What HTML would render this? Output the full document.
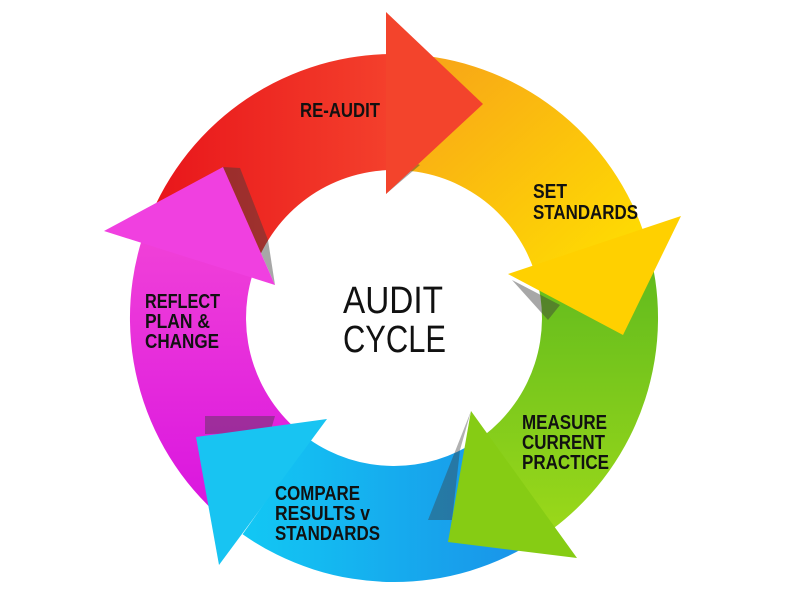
<!DOCTYPE html>
<html><head><meta charset="utf-8"><style>
html,body{margin:0;padding:0;background:#fff;width:800px;height:599px;overflow:hidden}
svg{display:block}
text{font-family:"Liberation Sans",sans-serif;fill:#111}
.l{font-size:20px;font-weight:bold}
.c{font-size:38px}
</style></head><body>
<svg id="s" width="800" height="599" viewBox="0 0 800 599">
<defs>
<linearGradient id="gr" x1="0" y1="0" x2="1" y2="0"><stop offset="0" stop-color="#e8141a"/><stop offset="1" stop-color="#f4402c"/></linearGradient>
<linearGradient id="gy" x1="0" y1="0" x2="1" y2="1"><stop offset="0" stop-color="#f7a01a"/><stop offset="1" stop-color="#ffe000"/></linearGradient>
<linearGradient id="gg" x1="0" y1="0" x2="0" y2="1"><stop offset="0" stop-color="#5cb81e"/><stop offset="1" stop-color="#9ad81a"/></linearGradient>
<linearGradient id="gb" x1="1" y1="0" x2="0" y2="0"><stop offset="0" stop-color="#1a90e8"/><stop offset="1" stop-color="#12c8f4"/></linearGradient>
<linearGradient id="gm" x1="0" y1="1" x2="0" y2="0"><stop offset="0" stop-color="#d812e0"/><stop offset="1" stop-color="#f040d8"/></linearGradient>
</defs>
<g id="bands"></g>
<g id="heads"></g>
<text class="l" x="300" y="117" textLength="80" lengthAdjust="spacingAndGlyphs">RE-AUDIT</text>
<text class="l" x="533" y="198" textLength="34" lengthAdjust="spacingAndGlyphs">SET</text>
<text class="l" x="533" y="219" textLength="105" lengthAdjust="spacingAndGlyphs">STANDARDS</text>
<text class="l" x="145" y="308" textLength="75" lengthAdjust="spacingAndGlyphs">REFLECT</text>
<text class="l" x="145" y="328" textLength="65" lengthAdjust="spacingAndGlyphs">PLAN &amp;</text>
<text class="l" x="145" y="348" textLength="74" lengthAdjust="spacingAndGlyphs">CHANGE</text>
<text class="l" x="522" y="429" textLength="85" lengthAdjust="spacingAndGlyphs">MEASURE</text>
<text class="l" x="522" y="449" textLength="83" lengthAdjust="spacingAndGlyphs">CURRENT</text>
<text class="l" x="522" y="469" textLength="87" lengthAdjust="spacingAndGlyphs">PRACTICE</text>
<text class="l" x="275" y="500" textLength="85" lengthAdjust="spacingAndGlyphs">COMPARE</text>
<text class="l" x="275" y="520" textLength="95" lengthAdjust="spacingAndGlyphs">RESULTS  v</text>
<text class="l" x="275" y="540" textLength="105" lengthAdjust="spacingAndGlyphs">STANDARDS</text>
<text class="c" x="343" y="313" textLength="100" lengthAdjust="spacingAndGlyphs">AUDIT</text>
<text class="c" x="343" y="352" textLength="103" lengthAdjust="spacingAndGlyphs">CYCLE</text>
</svg>
<script>
var cx=394,cy=318,Ro=264,Ri=148;
function p(a,r){a=a*Math.PI/180;return [(cx+r*Math.sin(a)).toFixed(1),(cy-r*Math.cos(a)).toFixed(1)];}
function band(a0,a1,fill){
 var o0=p(a0,Ro),o1=p(a1,Ro),i1=p(a1,Ri),i0=p(a0,Ri);
 var lg=(a1-a0)>180?1:0;
 return '<path fill="'+fill+'" d="M'+o0+' A'+Ro+' '+Ro+' 0 '+lg+' 1 '+o1+' L'+i1+' A'+Ri+' '+Ri+' 0 '+lg+' 0 '+i0+'Z"/>';
}
var B='';
B+=band(216,287,'url(#gm)');
B+=band(289,359,'url(#gr)');
B+=band(0,71,'url(#gy)');
B+=band(73,143,'url(#gg)');
B+=band(146,215,'url(#gb)');
document.getElementById('bands').innerHTML=B;
var H='';
H+='<polygon fill="rgba(60,60,60,0.45)" points="386,150 420,165 400,182 386,194"/>';
H+='<polygon fill="rgba(60,60,60,0.45)" points="512,280 560,305 548,320"/>';
H+='<polygon fill="rgba(60,60,60,0.4)" points="471,411 460,450 452,520 428,520"/>';
H+='<polygon fill="rgba(60,60,60,0.4)" points="205,416 275,416 270,433 205,434"/>';
H+='<polygon fill="rgba(60,60,60,0.45)" points="223,167 240,168 268,240 275,285"/>';
H+='<polygon fill="#f3442c" points="386,12 483,104 386,194"/>';
H+='<polygon fill="#ffd000" points="508,274 681,216 623,335"/>';
H+='<polygon fill="#86cc14" points="471,411 577,558 448,542"/>';
H+='<polygon fill="#18c4f2" points="327,419 196,437 219,565"/>';
H+='<polygon fill="#f040e0" points="104,231 223,167 275,285"/>';
document.getElementById('heads').innerHTML=H;
</script>
</body></html>
